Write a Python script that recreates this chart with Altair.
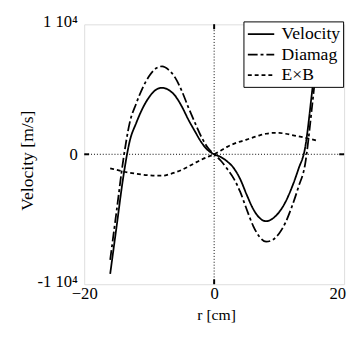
import altair as alt
import pandas as pd

# ---- data ----
r = list(range(-16, 17))
velocity = [-9200, -5500, -1800, 1000, 2400, 3550, 4400, 4950, 5120, 4950, 4500,
            3700, 2700, 1800, 950, 330, 0, -200, -550, -1050, -1900, -3100, -4200,
            -4900, -5150, -4950, -4450, -3650, -2500, -1100, 500, 4500, 9200]
diamag = [-8120, -4300, -480, 2420, 3900, 5120, 6020, 6600, 6770, 6500, 5900,
          4900, 3650, 2480, 1370, 530, 0, -480, -1120, -1850, -2880, -4230, -5500,
          -6360, -6730, -6590, -6090, -5230, -3980, -2480, -770, 3350, 8140]
exb_r = list(range(-16, 16)) + [15.7]
exb = [-1080, -1200, -1320, -1420, -1500, -1570, -1620, -1650, -1650, -1550, -1400,
       -1200, -950, -680, -420, -200, 0, 280, 570, 800, 980, 1130, 1300, 1460, 1580,
       1640, 1640, 1580, 1480, 1380, 1270, 1150, 1060]
series_names = ["Velocity", "Diamag", "E×B"]
dashes = [[1, 0], [10, 3, 3, 3], [4, 3]]
x_ticks = [-20, 0, 20]
y_ticks = [-10000, 0, 10000]

rows = []
for xs, ys, name in [(r, velocity, "Velocity"), (r, diamag, "Diamag"), (exb_r, exb, "E×B")]:
    for a, b in zip(xs, ys):
        rows.append({"r": a, "v": b, "s": name})
df = pd.DataFrame(rows)

FONT = "Liberation Serif"
W = H = 266

xs_ = alt.Scale(domain=[-20, 20], nice=False, zero=False)
ys_ = alt.Scale(domain=[-10000, 10000], nice=False, zero=False)

x_axis = alt.Axis(title="r [cm]", values=x_ticks, ticks=False, domain=False, grid=False,
                  labelFont=FONT, labelFontSize=17, labelColor="black", labelPadding=2,
                  labelOffset={"condition": {"test": "datum.value == 20", "value": -7}, "value": 0},
                  labelFlush=False, titleFont=FONT, titleFontSize=16, titleFontWeight="normal",
                  titleColor="black", titleX=135, titleY=31, titleBaseline="middle")
y_axis = alt.Axis(title="Velocity [m/s]", values=y_ticks, ticks=False, domain=False, grid=False,
                  labelExpr="datum.value == 0 ? '0' : (datum.value > 0 ? '1 10⁴' : '-1 10⁴')",
                  labelFont=FONT, labelFontSize=17, labelColor="black", labelPadding=7,
                  labelOffset={"condition": {"test": "datum.value == 0", "value": 0}, "value": -3},
                  labelBaseline="middle", labelFlush=False,
                  titleFont=FONT, titleFontSize=18, titleFontWeight="normal", titleColor="black",
                  titleX=-58, titleY=139, titleAngle=-90, titleBaseline="middle", titleAlign="center")

lines = alt.Chart(df).mark_line(strokeWidth=1.8, color="black", clip=True,
                                interpolate="monotone").encode(
    x=alt.X("r:Q", scale=xs_, axis=x_axis),
    y=alt.Y("v:Q", scale=ys_, axis=y_axis),
    strokeDash=alt.StrokeDash(
        "s:N", scale=alt.Scale(domain=series_names, range=dashes),
        legend=alt.Legend(title=None, orient="none", legendX=163, legendY=-3,
                          symbolType="M-1.5,0H1.5", symbolSize=324, symbolStrokeWidth=1.8,
                          symbolStrokeColor="black", symbolOffset=5,
                          labelFont=FONT, labelFontSize=18,
                          labelColor="black", fillColor="white", strokeColor="black",
                          padding=3, rowPadding=2, labelOffset=11, zindex=5)),
)

zero_v = alt.Chart(pd.DataFrame({"z": [0]})).mark_rule(
    color="black", strokeWidth=1, strokeDash=[1, 2]).encode(x=alt.X("z:Q", scale=xs_))
zero_h = alt.Chart(pd.DataFrame({"z": [0]})).mark_rule(
    color="black", strokeWidth=1, strokeDash=[1, 2]).encode(y=alt.Y("z:Q", scale=ys_))

tb = alt.Chart(pd.DataFrame({"z": [0]})).mark_rule(color="black", strokeWidth=2).encode(
    x=alt.X("z:Q", scale=xs_), y=alt.value(H), y2=alt.value(H - 5))
tt = alt.Chart(pd.DataFrame({"z": [0]})).mark_rule(color="black", strokeWidth=2).encode(
    x=alt.X("z:Q", scale=xs_), y=alt.value(0), y2=alt.value(5))
tl = alt.Chart(pd.DataFrame({"z": [0]})).mark_rule(color="black", strokeWidth=2).encode(
    y=alt.Y("z:Q", scale=ys_), x=alt.value(0), x2=alt.value(5))
tr = alt.Chart(pd.DataFrame({"z": [0]})).mark_rule(color="black", strokeWidth=2).encode(
    y=alt.Y("z:Q", scale=ys_), x=alt.value(W), x2=alt.value(W - 5))

chart = alt.layer(zero_v, zero_h, tb, tt, tl, tr, lines).properties(
    width=W, height=H,
    autosize=alt.AutoSizeParams(type="none"),
    padding={"left": 78, "top": 13, "right": 4, "bottom": 38},
).configure_view(stroke="black", strokeWidth=2).configure(background="white", font=FONT)

chart.save("out.html", embed_options={"renderer": "svg", "actions": False})
